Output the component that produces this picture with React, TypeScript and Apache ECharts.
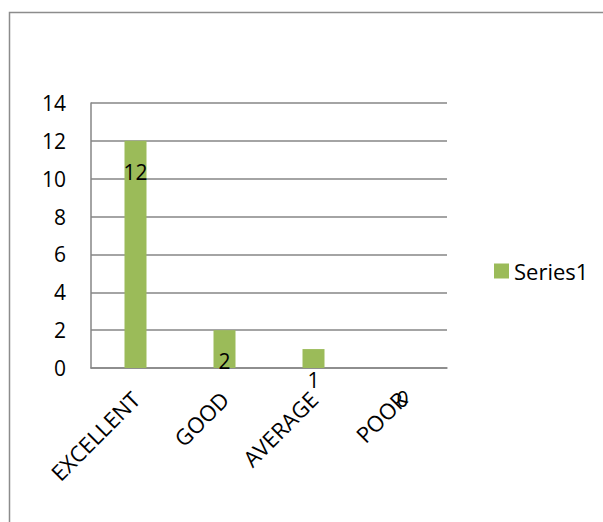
import React, { useEffect, useRef } from "react";
import * as echarts from "echarts";

const categories = ["EXCELLENT", "GOOD", "AVERAGE", "POOR"];
const series1 = [12, 2, 1, 0];
const seriesName = "Series1";

const FONT = "'Open Sans', 'Liberation Sans', sans-serif";

export default function App() {
  const ref = useRef<HTMLDivElement>(null);
  useEffect(() => {
    if (!ref.current) return;
    const chart = echarts.init(ref.current, null, { renderer: "svg" });
    chart.setOption({
      animation: false,
      backgroundColor: "#ffffff",
      textStyle: { fontFamily: FONT },
      graphic: [
        {
          type: "rect",
          shape: { x: 9.5, y: 12.5, width: 700, height: 600 },
          style: { fill: "none", stroke: "#8c8c8c", lineWidth: 1.5 },
          silent: true,
        },
      ],
      legend: {
        data: [seriesName],
        left: 489,
        top: 255,
        itemWidth: 15,
        itemHeight: 15,
        itemGap: 6,
        icon: "rect",
        textStyle: { fontSize: 22, color: "#000", fontFamily: FONT },
      },
      grid: { left: 91, top: 103, width: 356, height: 265 },
      xAxis: {
        type: "category",
        data: categories,
        axisLine: { lineStyle: { color: "#868686", width: 1.5 } },
        axisTick: { show: false },
        axisLabel: {
          rotate: 45,
          margin: 27,
          fontSize: 22,
          color: "#000",
          fontFamily: FONT,
        },
      },
      yAxis: {
        type: "value",
        min: 0,
        max: 14,
        interval: 2,
        axisLine: { show: true, lineStyle: { color: "#868686", width: 1.5 } },
        axisTick: { show: false },
        splitLine: { lineStyle: { color: "#868686", width: 1.5 } },
        axisLabel: { fontSize: 21, color: "#000", margin: 25, fontFamily: FONT },
      },
      series: [
        {
          name: seriesName,
          type: "bar",
          data: series1,
          barWidth: 22,
          itemStyle: { color: "#9BBB59" },
          label: {
            show: true,
            position: ["50%", 31],
            align: "center",
            verticalAlign: "middle",
            fontSize: 21,
            color: "#000",
            fontFamily: FONT,
          },
        },
      ],
    });
    return () => chart.dispose();
  }, []);
  return (
    <div
      ref={ref}
      style={{ position: "fixed", left: 0, top: 0, width: 603, height: 522 }}
    />
  );
}
